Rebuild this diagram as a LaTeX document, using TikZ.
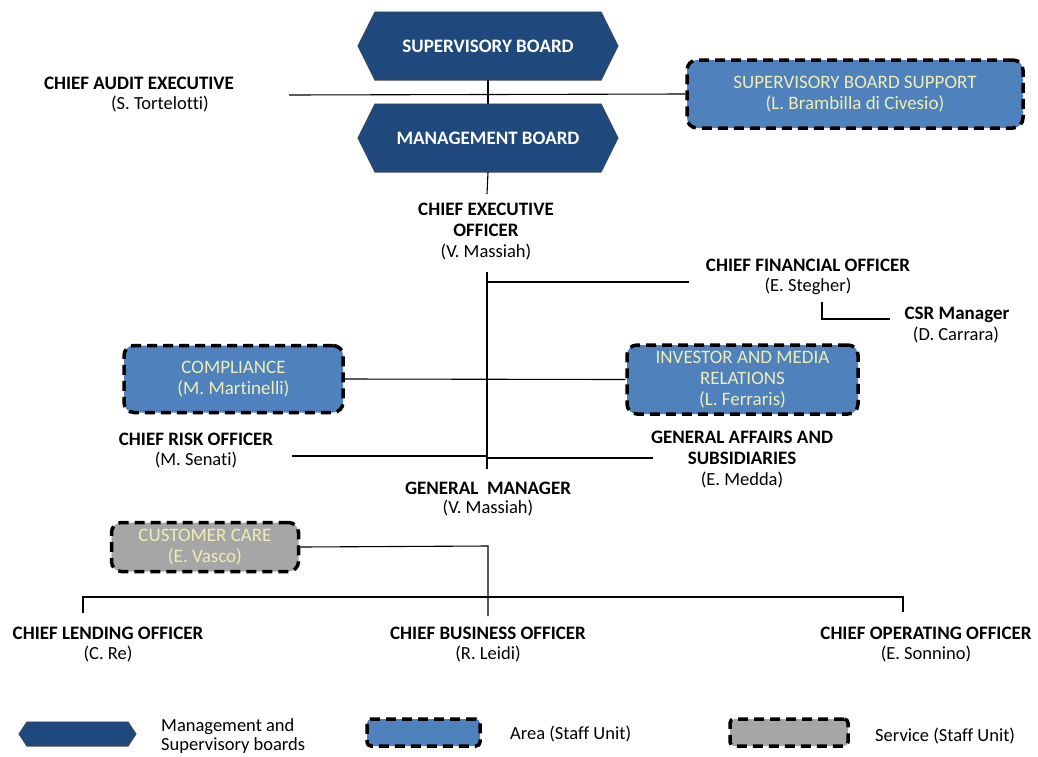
\documentclass[tikz,border=0pt]{standalone}
\usepackage{fontspec}
\setmainfont[Ligatures=CommonOff]{Carlito}
\usetikzlibrary{backgrounds}
\definecolor{navy}{RGB}{31,73,125}
\definecolor{areablue}{RGB}{79,129,189}
\definecolor{servgrey}{RGB}{166,166,166}
\definecolor{paletext}{RGB}{238,238,180}
\tikzset{
  title/.style={font=\bfseries\fontsize{19}{21}\selectfont, align=center, inner sep=0pt},
  person/.style={font=\fontsize{18.5}{21}\selectfont, inner sep=0pt},
  boardbox/.style={font=\bfseries\fontsize{19}{21}\selectfont, text=white, minimum width=226pt, minimum height=68pt, inner sep=0pt},
  hexfill/.style={fill=navy, draw=black!70, line width=0.6pt},
  staffbox/.style={draw=black, line width=3.5pt, dash pattern=on 10pt off 6pt, rounded corners=10pt,
     text=paletext, align=center, inner sep=0pt, font=\fontsize{19}{21}\selectfont},
  areabox/.style={staffbox, fill=areablue},
  servbox/.style={staffbox, fill=servgrey},
  conn/.style={draw=black, line width=1.1pt},
  legtext/.style={font=\fontsize{18.5}{19}\selectfont, align=left, anchor=west, inner sep=0pt},
}
\begin{document}
\begin{tikzpicture}[x=1pt,y=-1pt]
\useasboundingbox (0,0) rectangle (1038,756);

% boards
\node[boardbox] (sb) at (488,46) {SUPERVISORY BOARD};
\node[boardbox] (mb) at (488,138) {MANAGEMENT BOARD};
\begin{scope}[on background layer]
\path[hexfill] ([xshift=-17pt]sb.west) -- (sb.north west) -- (sb.north east) -- ([xshift=17pt]sb.east) -- (sb.south east) -- (sb.south west) -- cycle;
\path[hexfill] ([xshift=-17pt]mb.west) -- (mb.north west) -- (mb.north east) -- ([xshift=17pt]mb.east) -- (mb.south east) -- (mb.south west) -- cycle;
\end{scope}

% chief audit executive
\node[title] (cae) at (139,83) {CHIEF AUDIT EXECUTIVE};
\node[person] (caen) at (160,104) {(S. Tortelotti)};
\node[areabox, minimum width=336pt, minimum height=68pt] (sbs) at (855,94) {SUPERVISORY BOARD SUPPORT\\(L. Brambilla di Civesio)};

% CEO
\node[title] (ceo) at (486,220) {CHIEF EXECUTIVE\\OFFICER};
\node[person] (ceon) at (486,252) {(V. Massiah)};

% CFO & CSR
\node[title] (cfo) at (808,265) {CHIEF FINANCIAL OFFICER};
\node[person] (cfon) at (808,286) {(E. Stegher)};
\node[title] (csr) at (957,315) {CSR Manager};
\node[person] (csrn) at (956,335) {(D. Carrara)};

% compliance & IMR
\node[areabox, minimum width=219pt, minimum height=67pt] (comp) at (233.5,379) {COMPLIANCE\\(M. Martinelli)};
\node[areabox, minimum width=231pt, minimum height=69pt] (imr) at (742.5,379.5) {INVESTOR AND MEDIA\\RELATIONS\\(L. Ferraris)};

% CRO & GA
\node[title] (cro) at (196,439) {CHIEF RISK OFFICER};
\node[person] (cron) at (196,460) {(M. Senati)};
\node[title] (ga) at (742,448) {GENERAL AFFAIRS AND\\SUBSIDIARIES};
\node[person] (gan) at (742,480) {(E. Medda)};

% GM
\node[title] (gm) at (488,488) {GENERAL\ \ MANAGER};
\node[person] (gmn) at (488,508) {(V. Massiah)};

% customer care
\node[servbox, minimum width=187pt, minimum height=49pt] (cc) at (205,547) {CUSTOMER CARE\\(E. Vasco)};

% bottom officers
\node[title] (clo) at (108,633) {CHIEF LENDING OFFICER};
\node[person] (clon) at (108,654) {(C. Re)};
\node[title] (cbo) at (488,633) {CHIEF BUSINESS OFFICER};
\node[person] (cbon) at (488,654) {(R. Leidi)};
\node[title] (coo) at (926,633) {CHIEF OPERATING OFFICER};
\node[person] (coon) at (926,654) {(E. Sonnino)};

% coordinates
\coordinate (caeL) at (289,95);
\coordinate (mbB) at (487,194);
\coordinate (ceoB) at (487,272);
\coordinate (gmT) at (487,469);
\coordinate (cfoL) at (487,282);
\coordinate (cfoR) at (689,282);
\coordinate (csrT) at (822,302);
\coordinate (csrC) at (822,319);
\coordinate (csrR) at (890,319);
\coordinate (croL) at (292,456);
\coordinate (croR) at (487,456);
\coordinate (gaL) at (487,458);
\coordinate (gaR) at (653,458);
\coordinate (ccC) at (488,546);
\coordinate (cbT) at (488,616);
\coordinate (busL) at (83,597);
\coordinate (busR) at (903,597);
\coordinate (cloT) at (83,613);
\coordinate (cooT) at (903,612);

% connectors
\draw[conn] (sb.south) -- (mb.north);
\draw[conn] (caeL) -- (sbs.west);
\draw[conn] (mb.south) -- (mbB);
\draw[conn] (ceoB) -- (gmT);
\draw[conn] (cfoL) -- (cfoR);
\draw[conn] (csrT) -- (csrC) -- (csrR);
\draw[conn] (comp.east) -- (imr.west);
\draw[conn] (croL) -- (croR);
\draw[conn] (gaL) -- (gaR);
\draw[conn] (cc.east) -- (ccC) -- (cbT);
\draw[conn] (cloT) -- (busL) -- (busR) -- (cooT);

% legend
\node[minimum width=101pt, minimum height=24pt, inner sep=0pt] (lhex) at (77.5,734) {};
\begin{scope}[on background layer]
\path[hexfill] ([xshift=-8pt]lhex.west) -- (lhex.north west) -- (lhex.north east) -- ([xshift=8pt]lhex.east) -- (lhex.south east) -- (lhex.south west) -- cycle;
\end{scope}
\node[legtext] (lt1) at (161,736) {Management and\\Supervisory boards};
\node[areabox, rounded corners=4pt, minimum width=113pt, minimum height=27pt] (lb1) at (423.5,732.5) {};
\node[legtext] (lt2) at (510,734) {Area (Staff Unit)};
\node[servbox, rounded corners=4pt, minimum width=118pt, minimum height=27pt] (lb2) at (789,732.5) {};
\node[legtext] (lt3) at (875,736) {Service (Staff Unit)};
\end{tikzpicture}
\end{document}
